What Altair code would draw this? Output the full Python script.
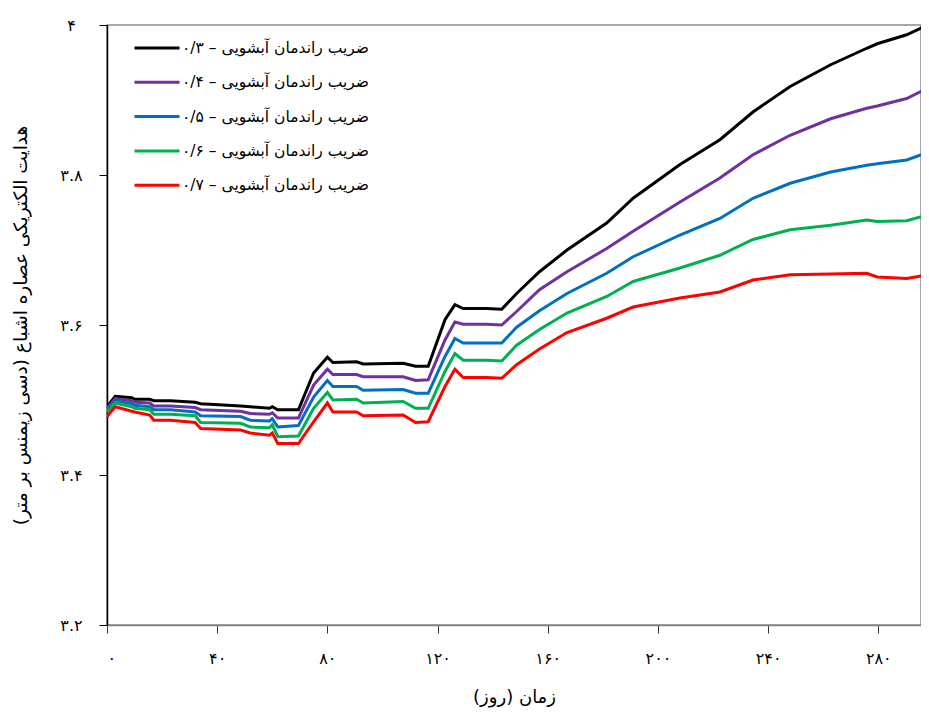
import altair as alt
import pandas as pd

days = [0, 3, 9, 10, 15.5, 17, 23, 32, 34, 48.5,
        52, 59, 60, 62, 69.5, 75, 80, 82, 90.6, 93,
        107.5, 112, 116.6, 122.7, 126.3, 129.3, 137.8, 143.3, 148.7, 157,
        167, 181.4, 191, 208, 222.5, 234.5, 248, 262.7, 275.8, 279.6,
        290.3, 298]

s03 = [3.491, 3.505, 3.503, 3.501, 3.501, 3.499, 3.499, 3.497, 3.495, 3.492,
       3.491, 3.489, 3.491, 3.487, 3.487, 3.536, 3.557, 3.550, 3.551, 3.548,
       3.549, 3.545, 3.545, 3.607, 3.627, 3.622, 3.622, 3.621, 3.642, 3.671,
       3.700, 3.736, 3.769, 3.814, 3.847, 3.884, 3.918, 3.947, 3.969, 3.975,
       3.987, 4.000]
s04 = [3.489, 3.502, 3.499, 3.497, 3.496, 3.492, 3.492, 3.490, 3.487, 3.485,
       3.482, 3.481, 3.483, 3.476, 3.476, 3.520, 3.541, 3.534, 3.534, 3.531,
       3.531, 3.526, 3.527, 3.580, 3.604, 3.601, 3.601, 3.600, 3.618, 3.647,
       3.671, 3.702, 3.725, 3.764, 3.796, 3.827, 3.853, 3.875, 3.889, 3.892,
       3.902, 3.916]
s05 = [3.487, 3.499, 3.495, 3.493, 3.491, 3.487, 3.487, 3.484, 3.479, 3.478,
       3.473, 3.472, 3.475, 3.464, 3.466, 3.504, 3.526, 3.518, 3.518, 3.513,
       3.514, 3.509, 3.509, 3.558, 3.582, 3.576, 3.576, 3.576, 3.597, 3.619,
       3.642, 3.669, 3.691, 3.720, 3.742, 3.769, 3.789, 3.804, 3.813, 3.815,
       3.820, 3.830]
s06 = [3.484, 3.496, 3.491, 3.489, 3.487, 3.481, 3.481, 3.479, 3.470, 3.469,
       3.464, 3.463, 3.467, 3.451, 3.452, 3.489, 3.510, 3.500, 3.501, 3.496,
       3.498, 3.489, 3.489, 3.538, 3.562, 3.553, 3.553, 3.552, 3.573, 3.594,
       3.616, 3.638, 3.658, 3.676, 3.693, 3.714, 3.727, 3.733, 3.740, 3.738,
       3.739, 3.747]
s07 = [3.478, 3.491, 3.485, 3.484, 3.480, 3.473, 3.473, 3.470, 3.462, 3.460,
       3.456, 3.453, 3.456, 3.442, 3.442, 3.471, 3.496, 3.484, 3.484, 3.479,
       3.480, 3.470, 3.471, 3.518, 3.541, 3.530, 3.530, 3.529, 3.547, 3.568,
       3.590, 3.609, 3.624, 3.636, 3.644, 3.660, 3.667, 3.668, 3.669, 3.664,
       3.662, 3.667]

series_names = [
    "۰/۳ – ضریب راندمان آبشویی",
    "۰/۴ – ضریب راندمان آبشویی",
    "۰/۵ – ضریب راندمان آبشویی",
    "۰/۶ – ضریب راندمان آبشویی",
    "۰/۷ – ضریب راندمان آبشویی",
]
series_colors = ["#000000", "#7030A0", "#0070C0", "#00B050", "#FF0000"]

x_ticks = [0, 40, 80, 120, 160, 200, 240, 280]
x_tick_labels = ["۰", "۴۰", "۸۰", "۱۲۰", "۱۶۰", "۲۰۰", "۲۴۰", "۲۸۰"]
y_ticks = [3.2, 3.4, 3.6, 3.8, 4.0]
y_tick_labels = ["۳.۲", "۳.۴", "۳.۶", "۳.۸", "۴"]

x_title = "زمان (روز)"
y_title = "هدایت الکتریکی عصاره اشباع (دسی زیمنس بر متر)"

rows = []
for name, vals in zip(series_names, [s03, s04, s05, s06, s07]):
    for d, v in zip(days, vals):
        rows.append({"day": d, "ec": v, "series": name})
df = pd.DataFrame(rows)


def label_expr(vals, labels, scale=1):
    expr = "''"
    for v, l in reversed(list(zip(vals, labels))):
        expr = f"round(datum.value*{scale}) == {round(v*scale)} ? '{l}' : ({expr})"
    return expr


FONT = "DejaVu Sans"

chart = alt.Chart(df).mark_line(strokeWidth=3, clip=True).encode(
    x=alt.X("day:Q",
            scale=alt.Scale(domain=[0, 295.5], nice=False, zero=False),
            axis=alt.Axis(values=x_ticks, labelExpr=label_expr(x_ticks, x_tick_labels),
                          title=x_title, grid=False, tickSize=8, tickColor="#333333",
                          domainColor="#7f7f7f", domainWidth=1.5,
                          labelFontSize=16, labelPadding=17, labelColor="#000000",
                          titleFontSize=18, titleFontWeight="normal", titlePadding=22,
                          titleColor="#000000", labelFont=FONT, titleFont=FONT)),
    y=alt.Y("ec:Q",
            scale=alt.Scale(domain=[3.2, 4.0], nice=False, zero=False),
            axis=alt.Axis(values=y_ticks, labelExpr=label_expr(y_ticks, y_tick_labels, 10),
                          title=y_title, grid=False, tickSize=8, tickColor="#000000",
                          domainColor="#000000", domainWidth=1.5,
                          labelFontSize=16, labelPadding=28, labelAlign="center",
                          labelColor="#000000",
                          titleFontSize=18.5, titleFontWeight="normal", titlePadding=29,
                          titleColor="#000000", labelFont=FONT, titleFont=FONT)),
    color=alt.Color("series:N",
                    scale=alt.Scale(domain=series_names, range=series_colors),
                    sort=series_names,
                    legend=alt.Legend(title=None, orient="none", legendX=26, legendY=7,
                                      symbolType="stroke", symbolSize=2025,
                                      symbolStrokeWidth=3, labelFontSize=15.5,
                                      labelFont=FONT, labelColor="#000000",
                                      labelLimit=500,
                                      clipHeight=32, rowPadding=2.3, labelOffset=1,
                                      padding=0)),
).properties(
    width=814, height=600,
    autosize=alt.AutoSizeParams(type="none"),
    padding={"left": 99, "top": 17, "right": 0, "bottom": 88},
).configure_view(stroke="#8c8c8c", strokeWidth=1.5)

chart.save("out.html", embed_options={"renderer": "svg", "actions": False})
